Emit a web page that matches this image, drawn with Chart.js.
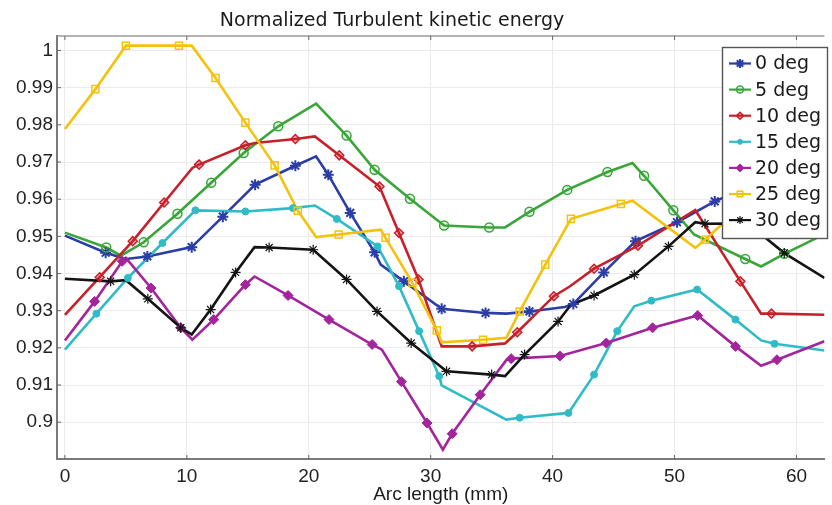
<!DOCTYPE html>
<html>
<head>
<meta charset="utf-8">
<script src="https://cdn.jsdelivr.net/npm/chart.js@4"></script>
<style>
html, body { margin: 0; padding: 0; background: #fff; }
</style>
</head>
<body>
<canvas id="myChart" width="832" height="505"></canvas>
<script>
const chartTitle = 'Normalized Turbulent kinetic energy';
const xTitle = 'Arc length (mm)';
const seriesNames = ['0 deg', '5 deg', '10 deg', '15 deg', '20 deg', '25 deg', '30 deg'];
const xTicks = [0, 10, 20, 30, 40, 50, 60];
const yTicks = [0.9, 0.91, 0.92, 0.93, 0.94, 0.95, 0.96, 0.97, 0.98, 0.99, 1];

// [arc length (mm), value]: line corners, then marker spots
const deg0Vertices = [[0, 0.9502], [5.0, 0.9439], [20.6, 0.9715], [25.9, 0.9424], [36.2, 0.9292], [41.0, 0.9310], [56.5, 0.9640], [62.3, 0.9505]];
const deg0Markers = [[3.34, 0.9456], [6.76, 0.9446], [10.4, 0.9471], [12.95, 0.9553], [15.6, 0.9639], [18.9, 0.9690], [21.6, 0.9666], [23.4, 0.9563], [25.4, 0.9457], [27.8, 0.9379], [30.9, 0.9305], [34.5, 0.9294], [38.1, 0.9298], [41.7, 0.9318], [44.2, 0.9403], [46.8, 0.9487], [50.2, 0.9538], [53.3, 0.9594]];

const deg5Vertices = [[0, 0.9510], [4.6, 0.9448], [20.6, 0.9857], [36.1, 0.9524], [46.55, 0.9697], [51.6, 0.9505], [57.1, 0.9419], [62.3, 0.9506]];
const deg5Markers = [[3.39, 0.9470], [6.46, 0.9484], [9.23, 0.9561], [12.0, 0.9644], [14.66, 0.9724], [17.5, 0.9796], [23.1, 0.9771], [25.4, 0.9679], [28.3, 0.9601], [31.1, 0.9529], [34.8, 0.9524], [38.1, 0.9566], [41.2, 0.9625], [44.5, 0.9673], [47.5, 0.9663], [49.9, 0.9570], [55.8, 0.9439], [59.0, 0.9453]];

const deg10Vertices = [[0, 0.9289], [10.45, 0.9684], [15.6, 0.9751], [20.5, 0.9769], [30.9, 0.9204], [36.1, 0.9212], [41.4, 0.9365], [51.7, 0.9571], [57.1, 0.9292], [62.3, 0.9289]];
const deg10Markers = [[2.85, 0.9390], [5.56, 0.9487], [8.14, 0.9591], [11.0, 0.9693], [14.8, 0.9745], [18.9, 0.9762], [22.5, 0.9718], [25.8, 0.9634], [27.4, 0.9509], [29.0, 0.9384], [33.4, 0.9204], [37.1, 0.9242], [40.1, 0.9339], [43.4, 0.9413], [47.0, 0.9475], [55.4, 0.9379], [57.95, 0.9292]];

const deg15Vertices = [[0, 0.9195], [20.5, 0.9583], [30.9, 0.9099], [36.2, 0.9007], [46.7, 0.9312], [57.1, 0.9220], [62.3, 0.9193]];
const deg15Markers = [[2.58, 0.9292], [5.16, 0.9388], [8.0, 0.9482], [10.7, 0.9570], [14.8, 0.9567], [18.7, 0.9576], [22.3, 0.9547], [25.65, 0.9473], [27.4, 0.9366], [29.05, 0.9245], [30.7, 0.9124], [37.3, 0.9012], [41.3, 0.9025], [43.4, 0.9128], [45.3, 0.9245], [48.1, 0.9327], [51.85, 0.9357], [55.0, 0.9276], [58.2, 0.9211]];

const deg20Vertices = [[0, 0.9220], [5.0, 0.9442], [10.45, 0.9222], [15.55, 0.9392], [26.0, 0.9195], [31.0, 0.8926], [36.2, 0.9167], [57.1, 0.9152], [62.3, 0.9218]];
const deg20Markers = [[2.44, 0.9325], [4.7, 0.9433], [7.06, 0.9361], [9.5, 0.9254], [12.2, 0.9276], [14.8, 0.9370], [18.3, 0.9341], [21.66, 0.9276], [25.2, 0.9209], [27.6, 0.9109], [29.7, 0.8998], [31.76, 0.8969], [34.06, 0.9074], [36.6, 0.9171], [40.6, 0.9178], [44.4, 0.9213], [48.2, 0.9254], [51.9, 0.9287], [55.0, 0.9204], [58.4, 0.9168]];

const deg25Vertices = [[0, 0.9789], [10.4, 1.0013], [20.6, 0.9498], [25.9, 0.9518], [30.9, 0.9215], [36.2, 0.9227], [46.55, 0.9596], [51.7, 0.9469], [62.3, 0.9785]];
const deg25Markers = [[2.5, 0.9896], [5.0, 1.0013], [9.36, 1.0013], [12.35, 0.9926], [14.8, 0.9806], [17.2, 0.9691], [19.1, 0.9569], [22.45, 0.9505], [26.3, 0.9496], [28.5, 0.9375], [30.5, 0.9247], [34.3, 0.9222], [37.3, 0.9298], [39.4, 0.9424], [41.5, 0.9547], [45.6, 0.9587], [52.5, 0.9491]];

const deg30Vertices = [[0, 0.9386], [5.0, 0.9382], [10.4, 0.9236], [15.55, 0.9471], [36.1, 0.9124], [41.5, 0.9316], [51.7, 0.9538], [56.0, 0.9535], [62.3, 0.9388]];
const deg30Markers = [[3.75, 0.9379], [6.8, 0.9332], [9.5, 0.9254], [11.95, 0.9303], [14.0, 0.9403], [16.75, 0.9470], [20.36, 0.9464], [23.1, 0.9384], [25.6, 0.9298], [28.4, 0.9213], [31.3, 0.9137], [35.0, 0.9128], [37.7, 0.9182], [40.45, 0.9271], [43.4, 0.9341], [46.7, 0.9397], [49.5, 0.9473], [52.5, 0.9534], [59.0, 0.9455]];

const allVertices = [deg0Vertices, deg5Vertices, deg10Vertices, deg15Vertices, deg20Vertices, deg25Vertices, deg30Vertices];
const allMarkers = [deg0Markers, deg5Markers, deg10Markers, deg15Markers, deg20Markers, deg25Markers, deg30Markers];

const styles = [
    { color: '#2b3ea6', pointStyle: 'star', radius: 5.5, fill: 'rgba(0,0,0,0)', bw: 2 },
    { color: '#3aa63a', pointStyle: 'circle', radius: 4.5, fill: 'rgba(58,166,58,0.12)', bw: 1.5 },
    { color: '#c8202a', pointStyle: 'rectRot', radius: 4.5, fill: 'rgba(200,32,42,0.35)', bw: 1.5 },
    { color: '#30bcc6', pointStyle: 'circle', radius: 3.5, fill: '#30bcc6', bw: 1 },
    { color: '#a3249b', pointStyle: 'rectRot', radius: 5, fill: '#a3249b', bw: 1 },
    { color: '#f4c20d', pointStyle: 'rect', radius: 5, fill: 'rgba(255,255,255,0)', bw: 1.5 },
    { color: '#141414', pointStyle: 'star', radius: 5, fill: 'rgba(0,0,0,0)', bw: 1.2 },
];

const toXY = arr => arr.map(p => ({ x: p[0], y: p[1] }));

const datasets = [];
seriesNames.forEach((name, i) => {
    const s = styles[i];
    const linePts = [...allVertices[i], ...allMarkers[i]].sort((a, b) => a[0] - b[0]);
    datasets.push({
        label: name,
        data: toXY(linePts),
        showLine: true,
        borderColor: s.color,
        borderWidth: 2.6,
        pointRadius: 0,
        order: 20 - i,
    });
    datasets.push({
        label: name + ' markers',
        data: toXY(allMarkers[i]),
        showLine: false,
        pointStyle: s.pointStyle,
        pointRadius: s.radius,
        pointBorderColor: s.color,
        pointBackgroundColor: s.fill,
        pointBorderWidth: s.bw,
        order: 10 - i,
    });
});

const titlePlugin = {
    id: 'plotTitle',
    afterDraw(chart) {
        const c = chart.ctx;
        c.save();
        c.font = "19px 'DejaVu Sans'";
        c.fillStyle = '#1a1a1a';
        c.textAlign = 'center';
        c.textBaseline = 'middle';
        c.fillText(chartTitle, 392, 21);
        c.restore();
    }
};

// top frame line plus little inward tick marks
const framePlugin = {
    id: 'frame',
    beforeDatasetsDraw(chart) {
        const c = chart.ctx;
        const a = chart.chartArea;
        c.save();
        c.strokeStyle = '#9a9a9a';
        c.lineWidth = 1.5;
        c.beginPath();
        c.moveTo(a.left, a.top);
        c.lineTo(a.right, a.top);
        c.stroke();
        c.strokeStyle = '#666';
        c.lineWidth = 1;
        c.beginPath();
        xTicks.forEach(v => {
            const px = chart.scales.x.getPixelForValue(v);
            c.moveTo(px, a.bottom); c.lineTo(px, a.bottom - 4);
            c.moveTo(px, a.top); c.lineTo(px, a.top + 4);
        });
        yTicks.forEach(v => {
            const py = chart.scales.y.getPixelForValue(v);
            c.moveTo(a.left, py); c.lineTo(a.left + 4, py);
        });
        c.stroke();
        c.restore();
    }
};

const legendPlugin = {
    id: 'boxLegend',
    afterDraw(chart) {
        const c = chart.ctx;
        c.save();
        c.fillStyle = '#fff';
        c.fillRect(722, 47, 105, 191);
        c.strokeStyle = '#555';
        c.lineWidth = 1.4;
        c.strokeRect(722.5, 47.5, 105, 191);
        c.font = "19px 'DejaVu Sans'";
        c.textBaseline = 'middle';
        c.textAlign = 'left';
        seriesNames.forEach((name, i) => {
            const s = styles[i];
            const y = 63.5 + i * 26.1;
            c.strokeStyle = s.color;
            c.lineWidth = 2.2;
            c.beginPath();
            c.moveTo(729, y);
            c.lineTo(751, y);
            c.stroke();
            c.fillStyle = s.fill;
            c.strokeStyle = s.color;
            c.lineWidth = s.bw;
            Chart.helpers.drawPoint(c, { pointStyle: s.pointStyle, radius: s.radius - 1, rotation: 0, borderWidth: s.bw }, 740, y);
            c.fillStyle = '#1a1a1a';
            c.fillText(name, 755, y + 1);
        });
        c.restore();
    }
};

const ctx = document.getElementById('myChart');
new Chart(ctx, {
    type: 'scatter',
    data: { datasets: datasets },
    plugins: [framePlugin, legendPlugin, titlePlugin],
    options: {
        responsive: false,
        animation: false,
        devicePixelRatio: 1,
        layout: { padding: { top: 36, right: 1, left: 0, bottom: 0 } },
        plugins: {
            legend: { display: false },
            tooltip: { enabled: false },
            title: { display: false }
        },
        scales: {
            x: {
                type: 'linear',
                min: -0.65,
                max: 62.3,
                afterBuildTicks: scale => { scale.ticks = xTicks.map(v => ({ value: v })); },
                afterFit: scale => { scale.height = 46; },
                ticks: { color: '#222', font: { size: 19 }, padding: 6, maxRotation: 0 },
                grid: { color: '#ebebeb', drawTicks: false },
                border: { color: '#7a7a7a', width: 2 },
                title: { display: true, text: xTitle, color: '#1a1a1a', font: { size: 19 }, padding: { top: 0, bottom: -1 } }
            },
            y: {
                type: 'linear',
                min: 0.8901,
                max: 1.0039,
                afterBuildTicks: scale => { scale.ticks = yTicks.map(v => ({ value: v })); },
                afterFit: scale => { scale.width = 57; },
                ticks: { color: '#222', font: { size: 19 }, padding: 4, callback: v => String(+v.toFixed(2)) },
                grid: { color: '#ebebeb', drawTicks: false },
                border: { color: '#7a7a7a', width: 2 }
            }
        }
    }
});
</script>
</body>
</html>
